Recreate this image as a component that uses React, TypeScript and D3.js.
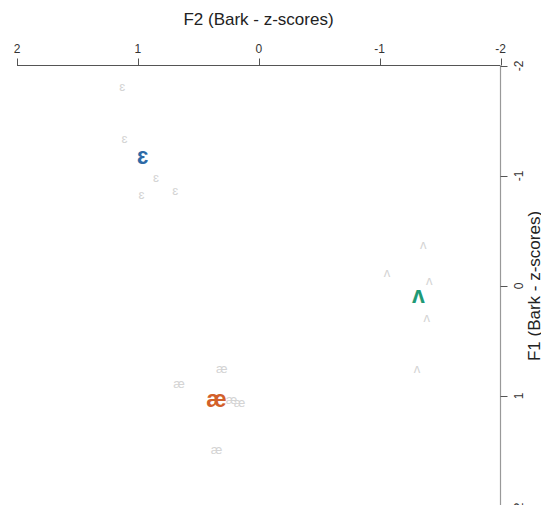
import React from "react";
import * as d3 from "d3";

// Individual tokens (grey)
const tokenVowel = ["ɛ", "ɛ", "ɛ", "ɛ", "ɛ", "ʌ", "ʌ", "ʌ", "ʌ", "ʌ", "æ", "æ", "æ", "æ", "æ"];
const tokenF2 = [1.13, 1.11, 0.85, 0.69, 0.97, -1.36, -1.06, -1.41, -1.39, -1.31, 0.305, 0.66, 0.225, 0.16, 0.35];
const tokenF1 = [-1.80, -1.33, -0.98, -0.86, -0.82, -0.37, -0.11, -0.04, 0.30, 0.76, 0.76, 0.90, 1.045, 1.07, 1.50];

// Vowel means (coloured)
const meanVowel = ["ɛ", "ʌ", "æ"];
const meanF2 = [0.96, -1.32, 0.35];
const meanF1 = [-1.16, 0.10, 1.045];
const meanColor = ["#2d6aa6", "#1f9a76", "#d2602a"];

const ticks = [2, 1, 0, -1, -2];

const W = 541;
const H = 505;
const FONT = "'Liberation Sans', Arial, sans-serif";

export default function App() {
  const x = d3.scaleLinear().domain([2, -2]).range([17, 500.5]);
  const y = d3.scaleLinear().domain([-2, 2]).range([66, 506]);
  const axisY = 65.5;
  const axisX = 500.5;

  return (
    <svg
      width={W}
      height={H}
      style={{ position: "absolute", left: 0, top: 0, background: "#fff" }}
      fontFamily={FONT}
    >
      {/* Top axis (F2) */}
      <line x1={x(2)} x2={x(-2)} y1={axisY} y2={axisY} stroke="#555" strokeWidth={1} />
      {ticks.map((t) => (
        <g key={"tx" + t}>
          <line x1={Math.round(x(t)) + 0.5} x2={Math.round(x(t)) + 0.5} y1={axisY} y2={axisY - 7} stroke="#555" />
          <text x={x(t)} y={53} textAnchor="middle" fontSize={12} fill="#333">
            {t}
          </text>
        </g>
      ))}
      <text x={258.5} y={25} textAnchor="middle" fontSize={17} fill="#222">
        F2 (Bark - z-scores)
      </text>

      {/* Right axis (F1) */}
      <line x1={axisX} x2={axisX} y1={y(-2)} y2={y(2)} stroke="#999" strokeWidth={1.2} />
      {ticks.map((t) => (
        <g key={"ty" + t}>
          <line x1={axisX} x2={axisX + 7} y1={Math.round(y(t)) + 0.5} y2={Math.round(y(t)) + 0.5} stroke="#555" />
          <text
            transform={`translate(523, ${y(t)}) rotate(-90)`}
            textAnchor="middle"
            fontSize={12}
            fill="#333"
          >
            {t}
          </text>
        </g>
      ))}
      <text
        transform={`translate(540, ${y(0)}) rotate(-90)`}
        textAnchor="middle"
        fontSize={17}
        fill="#222"
      >
        F1 (Bark - z-scores)
      </text>

      {/* Tokens */}
      {tokenVowel.map((v, i) => (
        <text
          key={"tok" + i}
          x={x(tokenF2[i])}
          y={y(tokenF1[i])}
          dy="0.26em"
          textAnchor="middle"
          fontSize={13}
          fill="#d4d4d4"
        >
          {v}
        </text>
      ))}

      {/* Means */}
      {meanVowel.map((v, i) => (
        <text
          key={"mean" + i}
          x={x(meanF2[i])}
          y={y(meanF1[i])}
          dy="0.26em"
          textAnchor="middle"
          fontSize={23}
          fontWeight="bold"
          fill={meanColor[i]}
        >
          {v}
        </text>
      ))}
    </svg>
  );
}
